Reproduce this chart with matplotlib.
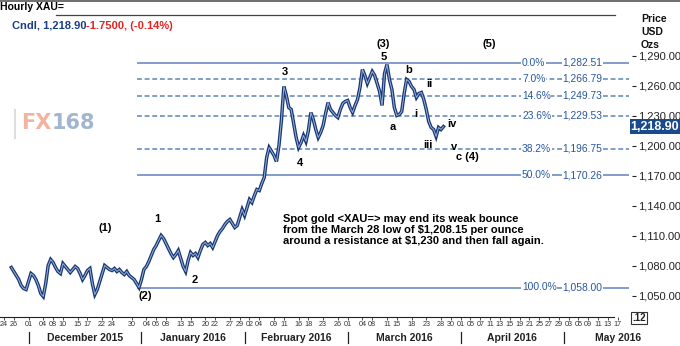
import numpy as np
import matplotlib.pyplot as plt
from matplotlib.lines import Line2D
from matplotlib.transforms import blended_transform_factory

plt.rcParams['font.family'] = ['Liberation Sans', 'DejaVu Sans']

# hourly XAU= closes sampled twice a day, x = business days since 24 Nov 2015
first_bday = '2015-11-24'
first_t = 1.5
step = 0.5
closes = [
    1078, 1074, 1070, 1066, 1060, 1057, 1056, 1064, 1072, 1070,
    1066, 1060, 1052, 1049, 1062, 1080, 1086, 1083, 1078, 1074,
    1072, 1082, 1079, 1076, 1073, 1076, 1079, 1077, 1072, 1066,
    1070, 1075, 1077, 1062, 1051, 1056, 1064, 1072, 1080, 1078,
    1076, 1075, 1077, 1074, 1076, 1073, 1071, 1074, 1070, 1068,
    1066, 1062, 1058, 1066, 1076, 1079, 1084, 1090, 1096, 1100,
    1105, 1110, 1107, 1102, 1097, 1092, 1088, 1091, 1095, 1087,
    1079, 1074, 1085, 1093, 1090, 1092, 1088, 1095, 1101, 1103,
    1100, 1102, 1098, 1104, 1110, 1114, 1117, 1121, 1124, 1126,
    1122, 1118, 1120, 1128, 1136, 1130, 1138, 1146, 1143, 1150,
    1156, 1155, 1162, 1168, 1188, 1198, 1194, 1190, 1184, 1200,
    1225, 1259, 1250, 1238, 1236, 1222, 1208, 1198, 1203, 1210,
    1204, 1215, 1233, 1226, 1216, 1208, 1213, 1220, 1232, 1243,
    1236, 1233, 1230, 1228, 1236, 1242, 1244, 1245, 1238, 1233,
    1240, 1246, 1258, 1276, 1270, 1262, 1268, 1274, 1270, 1262,
    1254, 1240, 1272, 1281, 1266, 1256, 1238, 1230, 1231, 1234,
    1252, 1266, 1264, 1259, 1256, 1248, 1252, 1253, 1246, 1236,
    1224, 1218, 1216, 1209, 1218, 1216, 1218.9,
]

# fibonacci retracement from the 31 Dec low to the 11 Mar high
fib_pct = ['0.0%', '7.0%', '14.6%', '23.6%', '38.2%', '50.0%', '100.0%']
fib_val = [1282.51, 1266.79, 1249.73, 1229.53, 1196.75, 1170.26, 1058.00]
fib_solid = [True, False, False, False, False, True, True]
fib_from = '2015-12-31'

price_ticks = [1050, 1080, 1110, 1140, 1170, 1200, 1230, 1260, 1290]

day_ticks = [
    '2015-11-24', '2015-11-26', '2015-12-01', '2015-12-04', '2015-12-08',
    '2015-12-10', '2015-12-15', '2015-12-17', '2015-12-22', '2015-12-24',
    '2015-12-30', '2016-01-04', '2016-01-06', '2016-01-08', '2016-01-13',
    '2016-01-15', '2016-01-20', '2016-01-22', '2016-01-27', '2016-01-29',
    '2016-02-02', '2016-02-04', '2016-02-09', '2016-02-11', '2016-02-16',
    '2016-02-18', '2016-02-23', '2016-02-26', '2016-03-01', '2016-03-04',
    '2016-03-08', '2016-03-11', '2016-03-15', '2016-03-18', '2016-03-23',
    '2016-03-28', '2016-03-30', '2016-04-01', '2016-04-05', '2016-04-07',
    '2016-04-11', '2016-04-13', '2016-04-15', '2016-04-19', '2016-04-21',
    '2016-04-25', '2016-04-27', '2016-04-29', '2016-05-03', '2016-05-05',
    '2016-05-09', '2016-05-11', '2016-05-13', '2016-05-17',
]
month_names = ['December 2015', 'January 2016', 'February 2016',
               'March 2016', 'April 2016', 'May 2016']
month_starts = ['2015-12-01', '2016-01-01', '2016-02-01',
                '2016-03-01', '2016-04-01', '2016-05-02', '2016-06-01']

last_close = 1218.90
change = -1.75
change_pct = -0.14

note = ("Spot gold <XAU=> may end its weak bounce\n"
        "from the March 28 low of $1,208.15 per ounce\n"
        "around a resistance at $1,230 and then fall again.")


def bday(d):
    return float(np.busday_count(first_bday, d))


NAVY = '#1b3875'
FIB = '#5f84bb'
FIBTXT = '#2856a0'

fig = plt.figure(figsize=(6.8, 3.46), dpi=100)
W, H = 680, 346
ax = fig.add_axes([0, (H - 317) / H, 632 / W, 267 / H])
ax.set_xlim(-0.81, 127.9)
ax.set_ylim(1028.5, 1295.5)

# price line (dark outline with a light core, like the candle bodies)
t = first_t + step * np.arange(len(closes))
ax.plot(t, closes, color=NAVY, lw=2.5, solid_joinstyle='miter', zorder=4)
ax.plot(t, closes, color='#a4bfe4', lw=0.7, alpha=0.9, zorder=5)

# retracement levels
x0 = bday(fib_from)
for pct, val, solid in zip(fib_pct, fib_val, fib_solid):
    ax.hlines(val, x0, 127.3, color=FIB, lw=1.1,
              linestyles='-' if solid else (0, (3.2, 1.8)), zorder=2)
    ax.text(105.5, val, pct, ha='left', va='center', fontsize=7.4,
            color=FIBTXT, zorder=6,
            bbox=dict(fc='white', ec='none', pad=0.4))
    ax.text(121.8, val, f'{val:,.2f}', ha='right', va='center', fontsize=7.4,
            color=FIBTXT, zorder=6,
            bbox=dict(fc='white', ec='none', pad=0.4))

# elliott wave counts
waves = [('(1)', 20.6, 1117.5), ('(2)', 28.7, 1049.5), ('1', 31.2, 1126.5),
         ('2', 38.9, 1065.5), ('3', 57.2, 1273.5), ('4', 60.3, 1182.5),
         ('(3)', 77.2, 1301.5), ('5', 77.4, 1288.5), ('(5)', 98.8, 1301.5),
         ('a', 79.2, 1218.5), ('b', 82.5, 1275.5), ('i', 83.9, 1231.5),
         ('ii', 86.6, 1261.5), ('iii', 86.4, 1200.5), ('iv', 91.2, 1221.5),
         ('v', 91.6, 1198.5), ('c (4)', 94.3, 1188.5)]
for lab, wx, wy in waves:
    ax.text(wx, wy, lab, ha='center', va='center', fontsize=8,
            fontweight='bold', color='black', clip_on=False, zorder=7)

ax.text(56.8, 1115.5, note, ha='left', va='center', fontsize=8,
        fontweight='bold', color='black', linespacing=1.15, zorder=7)

# axes styling
for s in ['left', 'top', 'right']:
    ax.spines[s].set_visible(False)
ax.spines['bottom'].set_bounds(-0.81, 124.2)
ax.spines['bottom'].set_color('#222222')
ax.yaxis.tick_right()
ax.set_yticks(price_ticks)
ax.set_yticklabels([f'{p:,.2f}' for p in price_ticks])
ax.tick_params(axis='y', length=3, width=0.8, pad=1.5, labelsize=8,
               colors='#222222')
ax.set_xticks([bday(d) for d in day_ticks])
ax.set_xticklabels([d[-2:] for d in day_ticks])
ax.tick_params(axis='x', length=2, width=0.6, pad=1, labelsize=5.2,
               colors='#333333')

tr = blended_transform_factory(ax.transData, ax.transAxes)
starts = [bday(d) for d in month_starts]
for i, name in enumerate(month_names):
    ax.plot([starts[i], starts[i]], [-0.055, -0.097], color='#222222',
            lw=0.9, transform=tr, clip_on=False)
    mid = (starts[i] + starts[i + 1]) / 2
    ax.text(mid, -0.079, name, transform=tr, ha='center', va='center',
            fontsize=7.5, fontweight='bold', color='#222222')

# last price tag
ty = blended_transform_factory(ax.transAxes, ax.transData)
ax.text(0.998, last_close, f'{last_close:,.2f}', transform=ty, ha='left',
        va='center', fontsize=9, fontweight='bold', color='white',
        clip_on=False, zorder=8,
        bbox=dict(fc='#1a4a8c', ec='none', pad=0.8))

# header
fig.add_artist(Line2D([0, 1], [1 - 0.6 / H, 1 - 0.6 / H], color='#555555',
                      lw=1.2))
fig.text(0.0, 1 - 7.5 / H, 'Hourly XAU=', ha='left', va='center',
         fontsize=7.5, fontweight='bold', color='black')
fig.add_artist(Line2D([56 / W, 615 / W], [1 - 14.5 / H, 1 - 14.5 / H],
                      color='#444444', lw=0.9))
head1 = fig.text(12 / W, 1 - 26 / H, f'Cndl, {last_close:,.2f}', ha='left',
                 va='center', fontsize=8, fontweight='bold', color='#1a3d8a')
fig.canvas.draw()
bb = head1.get_window_extent()
fig.text(bb.x1 / W, 1 - 26 / H, f'{change:.4f}, ({change_pct:.2f}%)',
         ha='left', va='center', fontsize=8, fontweight='bold',
         color='#e02424')
for i, s in enumerate(['Price', 'USD', 'Ozs']):
    fig.text(641 / W, 1 - (19 + 13 * i) / H, s, ha='left', va='center',
             fontsize=7.5, fontweight='bold', color='#111111')
fig.text(639 / W, 1 - 318 / H, '.12', ha='center', va='center', fontsize=7,
         fontweight='bold', color='#222222',
         bbox=dict(fc='white', ec='#333333', lw=0.8, pad=1.0))

# watermark
fig.add_artist(Line2D([15 / W, 15 / W], [1 - 110 / H, 1 - 138 / H],
                      color='#dddddd', lw=1.5))
wm = fig.text(21 / W, 1 - 123 / H, 'FX', ha='left', va='center',
              fontsize=15, fontweight='bold', color='#f2b4a0',
              family='DejaVu Sans')
fig.canvas.draw()
wb = wm.get_window_extent()
fig.text(wb.x1 / W, 1 - 123 / H, '168', ha='left', va='center', fontsize=15,
         fontweight='bold', color='#a3b6d0', family='DejaVu Sans')

fig.savefig('out.png', dpi=100, facecolor='white')
